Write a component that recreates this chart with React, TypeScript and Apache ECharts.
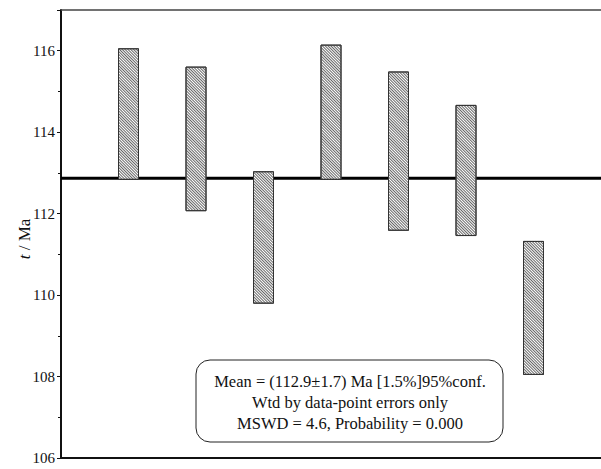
import React, { useEffect, useRef } from "react";
import * as echarts from "echarts";

const categories = ["0", "1", "2", "3", "4", "5", "6", "7", "8"];
const lowAges = [null, 112.83, 112.06, 109.79, 112.83, 111.58, 111.45, 108.04, null];
const highAges = [null, 116.06, 115.61, 113.04, 116.15, 115.49, 114.67, 111.33, null];
const meanAge = 112.87;
const yTicks = [106, 108, 110, 112, 114, 116];
const boxLines = [
  "Mean = (112.9±1.7) Ma [1.5%]95%conf.",
  "Wtd by data-point errors only",
  "MSWD = 4.6, Probability = 0.000",
];

const FONT = "'Liberation Serif', 'Times New Roman', serif";

export default function App() {
  const ref = useRef<HTMLDivElement>(null);
  useEffect(() => {
    if (!ref.current) return;
    const chart = echarts.init(ref.current, null, { renderer: "svg" });
    const baseData = lowAges.map((v) => (v == null ? "-" : v));
    const spanData = lowAges.map((v, i) =>
      v == null || highAges[i] == null ? "-" : +((highAges[i] as number) - v).toFixed(2)
    );
    chart.setOption({
      animation: false,
      backgroundColor: "#fff",
      grid: { left: 61, right: 0, top: 10, bottom: 11 },
      xAxis: [
        {
          type: "category",
          data: categories,
          boundaryGap: false,
          axisLine: { lineStyle: { color: "#111", width: 2 } },
          axisTick: { show: false },
          axisLabel: { show: false },
          splitLine: { show: false },
        },
        {
          type: "category",
          data: categories,
          boundaryGap: false,
          position: "top",
          axisLine: { lineStyle: { color: "#444", width: 1.5 } },
          axisTick: { show: false },
          axisLabel: { show: false },
        },
      ],
      yAxis: {
        type: "value",
        min: 106,
        max: 117,
        interval: 2,
        axisLine: { show: true, lineStyle: { color: "#111", width: 2 } },
        axisTick: { show: true, length: 4, lineStyle: { color: "#111" } },
        minorTick: { show: true, splitNumber: 2, length: 3, lineStyle: { color: "#111" } },
        splitLine: { show: false },
        axisLabel: {
          fontFamily: FONT,
          fontSize: 15,
          color: "#111",
          margin: 6,
          showMaxLabel: false,
          formatter: (v: number) => (yTicks.includes(v) ? String(v) : ""),
        },
      },
      series: [
        {
          type: "bar",
          stack: "age",
          data: baseData,
          barWidth: 21,
          itemStyle: { color: "transparent" },
          silent: true,
          z: 1,
        },
        {
          type: "bar",
          stack: "age",
          data: spanData,
          barWidth: 21,
          itemStyle: {
            color: "#fff",
            borderColor: "#333",
            borderWidth: 1,
            decal: {
              symbol: "rect",
              color: "#666",
              dashArrayX: [1, 0],
              dashArrayY: [1, 1],
              rotation: Math.PI / 4,
            },
          },
          z: 2,
        },
        {
          type: "line",
          data: categories.map(() => meanAge),
          symbol: "none",
          lineStyle: { color: "#000", width: 3 },
          z: 1,
        },
      ],
      graphic: [
        {
          type: "text",
          x: 24,
          y: 239,
          rotation: Math.PI / 2,
          style: {
            text: "{i|t} / Ma",
            fontFamily: FONT,
            fontSize: 17,
            fill: "#111",
            align: "center",
            verticalAlign: "middle",
            rich: {
              i: { fontFamily: FONT, fontSize: 17, fontStyle: "italic", fill: "#111" },
            },
          },
        },
        {
          type: "rect",
          shape: { x: 196, y: 360, width: 307, height: 82, r: 14 },
          style: { fill: "#fff", stroke: "#222", lineWidth: 1 },
          z: 10,
        },
        ...boxLines.map((t, i) => ({
          type: "text",
          x: 350,
          y: 381 + i * 21,
          style: {
            text: t,
            fontFamily: FONT,
            fontSize: 16.5,
            fill: "#111",
            align: "center",
            verticalAlign: "middle",
          },
          z: 11,
        })),
      ],
    });
    return () => chart.dispose();
  }, []);
  return <div ref={ref} style={{ width: 601, height: 469, position: "absolute", left: 0, top: 0 }} />;
}
